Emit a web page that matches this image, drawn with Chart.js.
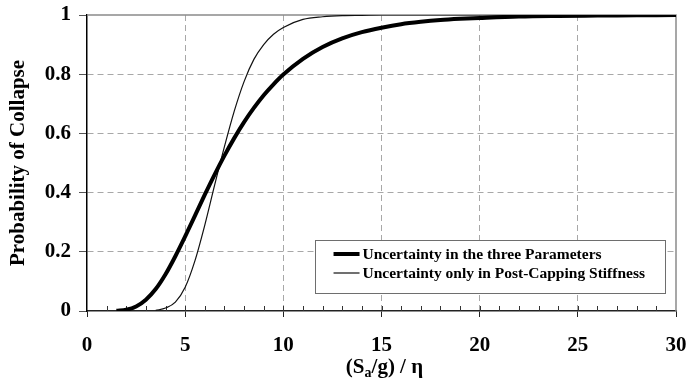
<!DOCTYPE html>
<html>
<head>
<meta charset="utf-8">
<script src="https://cdn.jsdelivr.net/npm/chart.js@4.4.1/dist/chart.umd.min.js"></script>
<style>
  html, body { margin: 0; padding: 0; background: #fff; }
  #wrap { width: 689px; height: 378px; }
</style>
</head>
<body>
<div id="wrap"><canvas id="collapseChart"></canvas></div>
<script>
// Collapse fragility curves, normalised intensity (Sa/g)/eta
const xThree = [1.5, 2, 2.5, 3, 3.5, 4, 4.5, 5, 5.5, 6, 6.5, 7, 7.5, 8, 8.5, 9, 9.5, 10,
                11, 12, 13, 14, 15, 16, 17, 18, 19, 20, 22, 24, 26, 28, 30];
const pThree = [0.0005, 0.004, 0.015, 0.038, 0.074, 0.124, 0.185, 0.252, 0.322, 0.393, 0.461, 0.525,
                0.584, 0.638, 0.686, 0.729, 0.766, 0.799, 0.852, 0.892, 0.921, 0.942, 0.957, 0.969,
                0.977, 0.983, 0.987, 0.990, 0.995, 0.997, 0.998, 0.999, 1.0];

const xStiff = [3.5, 4, 4.5, 5, 5.5, 6, 6.5, 7, 7.5, 8, 8.5, 9, 9.5, 10, 11, 12, 13, 14, 15, 20, 25, 30];
const pStiff = [0.002, 0.01, 0.03, 0.08, 0.17, 0.29, 0.425, 0.555, 0.675, 0.775, 0.85, 0.9,
                0.935, 0.958, 0.985, 0.994, 0.998, 0.999, 1.0, 1.0, 1.0, 1.0];

const seriesLabels = ['Uncertainty in the three Parameters', 'Uncertainty only in Post-Capping Stiffness'];
const yTitle = 'Probability of Collapse';
const xTitleParts = ['(S', 'a', '/g) / \u03b7'];

const SERIF = "'Liberation Serif', 'Times New Roman', serif";

function toPoints(xs, ys) {
  return xs.map((x, i) => ({ x: x, y: ys[i] }));
}

// keep the plot box fixed: no extra room reserved for edge labels
function fixBox(s, prop, size) {
  s[prop] = size;
  s.paddingTop = s.paddingBottom = s.paddingLeft = s.paddingRight = 0;
}

// frame on top/right plus small inward ticks on the x axis
const framePlugin = {
  id: 'frame',
  beforeDatasetsDraw(chart) {
    const { ctx, chartArea: a, scales } = chart;
    ctx.save();
    ctx.strokeStyle = '#8a8a8a';
    ctx.lineWidth = 1.5;
    ctx.beginPath();
    ctx.moveTo(a.left, a.top);
    ctx.lineTo(a.right, a.top);
    ctx.lineTo(a.right, a.bottom);
    ctx.stroke();

    ctx.strokeStyle = '#333';
    ctx.lineWidth = 1;
    const xs = scales.x;
    for (let v = xs.min + 1; v < xs.max; v++) {
      const px = Math.round(xs.getPixelForValue(v)) + 0.5;
      ctx.beginPath();
      ctx.moveTo(px, a.bottom);
      ctx.lineTo(px, a.bottom - 5);
      ctx.stroke();
    }
    ctx.restore();
  }
};

// boxed legend inside the lower right corner of the plot
const boxLegendPlugin = {
  id: 'boxLegend',
  afterDraw(chart) {
    const { ctx, chartArea: a } = chart;
    const sets = chart.data.datasets;
    ctx.save();
    ctx.font = 'bold 15.5px ' + SERIF;
    let maxW = 0;
    sets.forEach(ds => { maxW = Math.max(maxW, ctx.measureText(ds.label).width); });
    const sample = 26, padL = 19, padR = 20, rowH = 19;
    const w = padL + sample + 3 + maxW + padR;
    const h = 53;
    const right = a.right - 11;
    const bottom = a.bottom - 18;
    const left = right - w, top = bottom - h;

    ctx.fillStyle = '#fff';
    ctx.fillRect(left, top, w, h);
    ctx.strokeStyle = '#6e6e6e';
    ctx.lineWidth = 1;
    ctx.strokeRect(Math.round(left) + 0.5, Math.round(top) + 0.5, Math.round(w), Math.round(h));

    ctx.textBaseline = 'middle';
    ctx.fillStyle = '#000';
    sets.forEach((ds, i) => {
      const y = top + 14 + i * rowH;
      ctx.strokeStyle = ds.borderColor;
      ctx.lineWidth = ds.borderWidth;
      ctx.beginPath();
      ctx.moveTo(left + padL, y);
      ctx.lineTo(left + padL + sample, y);
      ctx.stroke();
      ctx.fillText(ds.label, left + padL + sample + 3, y + 1);
    });
    ctx.restore();
  }
};

// x axis title with a subscript
const xTitlePlugin = {
  id: 'xTitle',
  afterDraw(chart) {
    const { ctx, chartArea: a } = chart;
    const big = 'bold 21px ' + SERIF, small = 'bold 14px ' + SERIF;
    ctx.save();
    ctx.fillStyle = '#000';
    ctx.textBaseline = 'alphabetic';
    ctx.font = big;
    const w0 = ctx.measureText(xTitleParts[0]).width;
    const w2 = ctx.measureText(xTitleParts[2]).width;
    ctx.font = small;
    const w1 = ctx.measureText(xTitleParts[1]).width;
    const total = w0 + w1 + w2;
    let x = (a.left + a.right) / 2 + 3 - total / 2;
    const base = 373;
    ctx.font = big;
    ctx.fillText(xTitleParts[0], x, base);
    x += w0;
    ctx.font = small;
    ctx.fillText(xTitleParts[1], x, base + 4);
    x += w1;
    ctx.font = big;
    ctx.fillText(xTitleParts[2], x, base);
    ctx.restore();
  }
};

const edgeGrid = (limitA, limitB) => c =>
  (c.tick && (c.tick.value === limitA || c.tick.value === limitB)) ? 'rgba(0,0,0,0)' : '#a8a8a8';

new Chart(document.getElementById('collapseChart'), {
  type: 'line',
  data: {
    datasets: [
      {
        label: seriesLabels[0],
        data: toPoints(xThree, pThree),
        borderColor: '#000',
        borderWidth: 4,
        pointRadius: 0,
        cubicInterpolationMode: 'monotone',
        fill: false
      },
      {
        label: seriesLabels[1],
        data: toPoints(xStiff, pStiff),
        borderColor: '#111',
        borderWidth: 1.2,
        pointRadius: 0,
        cubicInterpolationMode: 'monotone',
        fill: false
      }
    ]
  },
  options: {
    responsive: true,
    maintainAspectRatio: false,
    animation: false,
    layout: { padding: { top: 15, right: 13, left: 0, bottom: 0 } },
    plugins: {
      legend: { display: false },
      tooltip: { enabled: false }
    },
    scales: {
      x: {
        type: 'linear',
        min: 0,
        max: 30,
        ticks: {
          stepSize: 5,
          color: '#000',
          padding: 16,
          font: { family: SERIF, size: 21, weight: 'bold' }
        },
        grid: {
          color: edgeGrid(0, 30),
          tickColor: '#222',
          tickLength: 6,
          lineWidth: 1
        },
        border: { color: '#222', width: 1.5, dash: [6, 4] },
        afterFit: s => fixBox(s, 'height', 67)
      },
      y: {
        min: 0,
        max: 1,
        ticks: {
          stepSize: 0.2,
          color: '#000',
          padding: 8,
          font: { family: SERIF, size: 21, weight: 'bold' },
          callback: v => String(Number(v.toFixed(2)))
        },
        grid: {
          color: edgeGrid(0, 1),
          tickColor: '#555',
          tickLength: 8,
          lineWidth: 1
        },
        border: { color: '#000', width: 1.5, dash: [6, 4] },
        title: {
          display: true,
          text: yTitle,
          color: '#000',
          padding: { top: 6, bottom: 0 },
          font: { family: SERIF, size: 21, weight: 'bold' }
        },
        afterFit: s => fixBox(s, 'width', 87)
      }
    }
  },
  plugins: [framePlugin, boxLegendPlugin, xTitlePlugin]
});
</script>
</body>
</html>
